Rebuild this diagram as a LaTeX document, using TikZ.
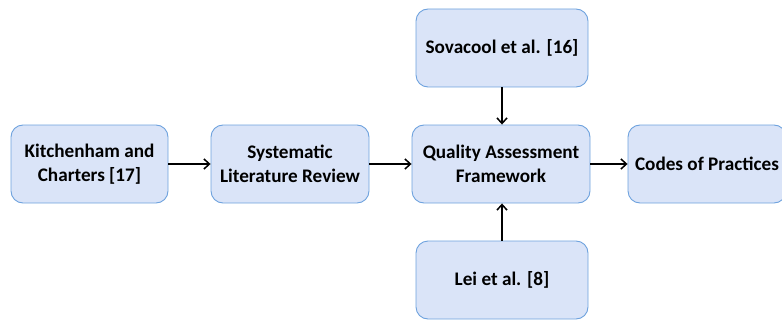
\documentclass[tikz,border=0pt]{standalone}
\usepackage{fontspec}
\setmainfont{Carlito}
\usetikzlibrary{arrows.meta}
\definecolor{boxfill}{RGB}{218,228,248}
\definecolor{boxline}{RGB}{110,162,222}
\begin{document}
\begin{tikzpicture}[x=1pt,y=-1pt,
  box/.style={draw=boxline, fill=boxfill, line width=0.9pt, rounded corners=12pt,
    minimum height=78pt, align=center, font=\bfseries\fontsize{19.2}{23.5}\selectfont, inner sep=1pt},
  conn/.style={line width=1.7pt, -{Straight Barb[length=5.5pt,width=10pt,line width=1.5pt]}}]
\useasboundingbox (0,0) rectangle (782,321);
\begin{scope}
\clip (0,0) rectangle (782,321);
\node[box, minimum width=157pt] (k) at (89.5,164) {Kitchenham and\\Charters [17]};
\node[box, minimum width=158pt] (s) at (290,164) {Systematic\\Literature Review};
\node[box, minimum width=178pt] (q) at (501,164) {Quality Assessment\\Framework};
\node[box, minimum width=158pt] (c) at (707,164) {Codes of Practices};
\node[box, minimum width=172pt] (v) at (502,48) {Sovacool et al. [16]};
\node[box, minimum width=172pt] (l) at (502,280) {Lei et al. [8]};
\end{scope}
\draw[conn] (k) -- (s);
\draw[conn] (s) -- (q);
\draw[conn] (q) -- (c);
\draw[conn] (v.south) -- (v.south |- q.north);
\draw[conn] (l.north) -- (l.north |- q.south);
\end{tikzpicture}
\end{document}
